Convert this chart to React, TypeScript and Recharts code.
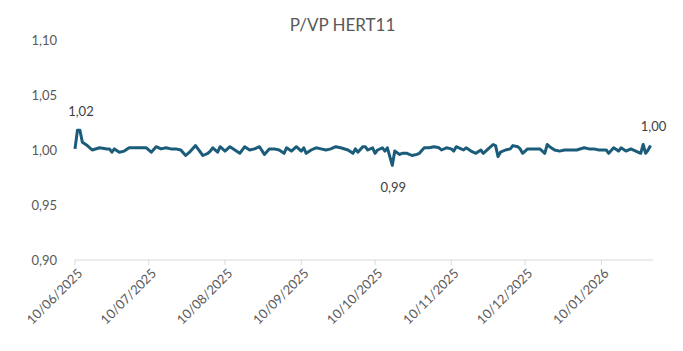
import { LineChart, Line, XAxis, YAxis } from 'recharts';

const dates = [
  '10/06/2025', '11/06/2025', '12/06/2025', '13/06/2025', '15/06/2025', '17/06/2025', '20/06/2025', '23/06/2025', '24/06/2025', '25/06/2025',
  '26/06/2025', '28/06/2025', '30/06/2025', '02/07/2025', '05/07/2025', '09/07/2025', '11/07/2025', '13/07/2025', '15/07/2025', '17/07/2025',
  '19/07/2025', '21/07/2025', '23/07/2025', '25/07/2025', '27/07/2025', '29/07/2025', '30/07/2025', '01/08/2025', '03/08/2025', '04/08/2025',
  '05/08/2025', '07/08/2025', '08/08/2025', '10/08/2025', '12/08/2025', '14/08/2025', '16/08/2025', '18/08/2025', '20/08/2025', '22/08/2025',
  '24/08/2025', '26/08/2025', '28/08/2025', '30/08/2025', '01/09/2025', '03/09/2025', '04/09/2025', '06/09/2025', '08/09/2025', '10/09/2025',
  '11/09/2025', '12/09/2025', '14/09/2025', '16/09/2025', '18/09/2025', '20/09/2025', '22/09/2025', '24/09/2025', '26/09/2025', '29/09/2025',
  '01/10/2025', '02/10/2025', '03/10/2025', '05/10/2025', '06/10/2025', '07/10/2025', '09/10/2025', '10/10/2025', '11/10/2025', '13/10/2025',
  '14/10/2025', '15/10/2025', '17/10/2025', '18/10/2025', '20/10/2025', '21/10/2025', '23/10/2025', '25/10/2025', '27/10/2025', '28/10/2025',
  '30/10/2025', '01/11/2025', '03/11/2025', '05/11/2025', '06/11/2025', '08/11/2025', '10/11/2025', '11/11/2025', '12/11/2025', '14/11/2025',
  '15/11/2025', '16/11/2025', '18/11/2025', '20/11/2025', '22/11/2025', '23/11/2025', '25/11/2025', '27/11/2025', '28/11/2025', '29/11/2025',
  '30/11/2025', '02/12/2025', '04/12/2025', '05/12/2025', '07/12/2025', '08/12/2025', '09/12/2025', '11/12/2025', '14/12/2025', '16/12/2025',
  '18/12/2025', '19/12/2025', '20/12/2025', '22/12/2025', '24/12/2025', '26/12/2025', '29/12/2025', '31/12/2025', '03/01/2026', '05/01/2026',
  '07/01/2026', '09/01/2026', '12/01/2026', '13/01/2026', '15/01/2026', '17/01/2026', '18/01/2026', '20/01/2026', '22/01/2026', '24/01/2026',
  '26/01/2026', '27/01/2026', '28/01/2026', '29/01/2026', '30/01/2026',
];

const pvp = [
  1.001, 1.018, 1.018, 1.007, 1.004, 1.000, 1.002, 1.001, 1.001, 0.998,
  1.001, 0.998, 0.999, 1.002, 1.002, 1.002, 0.998, 1.003, 1.001, 1.002,
  1.001, 1.001, 1.000, 0.995, 0.999, 1.004, 1.001, 0.995, 0.997, 0.999,
  1.002, 0.998, 1.003, 0.999, 1.003, 1.000, 0.997, 1.003, 1.000, 1.001,
  1.003, 0.996, 1.001, 1.001, 1.000, 0.997, 1.002, 0.999, 1.003, 0.999,
  1.002, 0.997, 1.000, 1.002, 1.001, 1.000, 1.001, 1.003, 1.002, 1.000,
  0.997, 1.001, 0.998, 1.003, 1.003, 1.000, 1.002, 0.997, 1.000, 1.002,
  0.999, 1.002, 0.986, 0.999, 0.996, 0.997, 0.997, 0.995, 0.996, 0.997,
  1.002, 1.002, 1.003, 1.002, 1.000, 1.002, 1.001, 0.999, 1.003, 1.001,
  1.000, 1.002, 0.999, 0.997, 1.000, 0.997, 1.001, 1.005, 1.004, 0.994,
  0.998, 1.000, 1.001, 1.004, 1.003, 1.001, 0.997, 1.001, 1.001, 1.001,
  0.997, 1.005, 1.003, 1.000, 0.999, 1.000, 1.000, 1.000, 1.002, 1.001,
  1.001, 1.000, 1.000, 0.997, 1.002, 0.999, 1.002, 0.999, 1.001, 0.999,
  0.997, 1.005, 0.997, 1.000, 1.004,
];

const tickDates = ['10/06/2025', '10/07/2025', '10/08/2025', '10/09/2025', '10/10/2025', '10/11/2025', '10/12/2025', '10/01/2026'];
const axisEndDate = '31/01/2026';
const yTicks = [0.9, 0.95, 1.0, 1.05, 1.1];

const labelDates = ['12/06/2025', '17/10/2025', '30/01/2026'];
const labelSides = ['above', 'below', 'above'];

const toDay = (s: string) => {
  const [d, m, y] = s.split('/').map(Number);
  return Date.UTC(y, m - 1, d) / 86400000;
};
const day0 = toDay(dates[0]);

const data = dates.map((d, i) => ({ date: d, x: toDay(d) - day0, v: pvp[i] }));
const xTicks = tickDates.map((d) => toDay(d) - day0);

const fmt = (v: number) => v.toFixed(2).replace('.', ',');
const FONT = 'Lato, "Open Sans", sans-serif';
const TICK = '#595959';

function DateTick(props: any) {
  const { x, y, payload } = props;
  const idx = xTicks.indexOf(payload.value);
  return (
    <g transform={`translate(${x + 5},${y + 4})`}>
      <text x={0} y={0} dy="0.35em" textAnchor="end" transform="rotate(-45)" fill={TICK} fontSize={13} fontFamily={FONT}>
        {tickDates[idx]}
      </text>
    </g>
  );
}

function PointLabel(props: any) {
  const { x, y, index } = props;
  const k = labelDates.indexOf(data[index]?.date);
  if (k < 0) return null;
  const below = labelSides[k] === 'below';
  return (
    <text x={x + (k === 2 ? 3 : 1)} y={below ? y + 22 : y - 19} textAnchor="middle" dy="0.35em" fill="#404040" fontSize={13} fontFamily={FONT}>
      {fmt(data[index].v)}
    </text>
  );
}

export default function App() {
  return (
    <div style={{ position: 'relative', width: 683, height: 351, boxSizing: 'border-box', border: '1px solid #d9d9d9', background: '#fff', margin: -8 }}>
      <div style={{ position: 'absolute', top: 13, left: 0, width: 683, textAlign: 'center', fontFamily: FONT, fontSize: 17, color: TICK }}>
        P/VP HERT11
      </div>
      <LineChart width={681} height={349} data={data} margin={{ top: 39, right: 29, bottom: 0, left: 14 }}>
        <XAxis
          type="number"
          dataKey="x"
          domain={[0, toDay(axisEndDate) - day0]}
          ticks={xTicks}
          interval={0}
          height={90}
          stroke="#d9d9d9"
          tickSize={5}
          tick={<DateTick />}
        />
        <YAxis
          domain={[0.9, 1.1]}
          ticks={yTicks}
          width={60}
          axisLine={false}
          tickLine={false}
          tickMargin={12}
          tickFormatter={fmt}
          tick={{ fill: TICK, fontSize: 13, fontFamily: FONT }}
        />
        <Line
          type="linear"
          dataKey="v"
          stroke="#1b5c7a"
          strokeWidth={3}
          strokeLinejoin="round"
          dot={false}
          isAnimationActive={false}
          label={<PointLabel />}
        />
      </LineChart>
    </div>
  );
}
